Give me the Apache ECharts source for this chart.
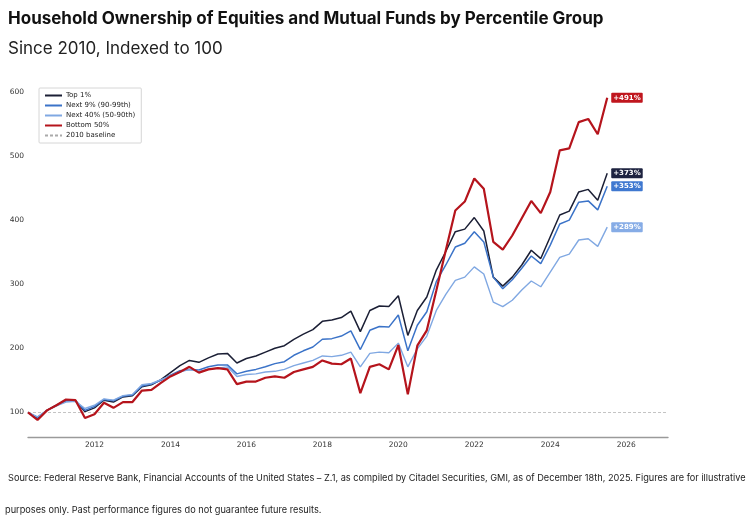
<!DOCTYPE html>
<html>
<head>
<meta charset="utf-8">
<script src="https://cdn.jsdelivr.net/npm/echarts@6/dist/echarts.min.js"></script>
<style>
html,body{margin:0;padding:0;background:#fff;}
#c{width:754px;height:526px;}
</style>
</head>
<body>
<div id="c"></div>
<script>
// Quarter-end dates, 2010Q1 .. 2025Q2
const quarters = [];
for (let y = 2010; y <= 2025; y++) {
  for (let q = 1; q <= 4; q++) {
    if (y === 2025 && q > 2) break;
    quarters.push(y + q / 4);
  }
}
const xTickLabels = [2012, 2014, 2016, 2018, 2020, 2022, 2024, 2026];
const yTickLabels = [100, 200, 300, 400, 500, 600];

const top1 = [100,91,103,111,118,118,101,107,119,116,124,126,140,143,151,162,173,181,178,185,191,192,177,184,188,194,200,204,214,222,229,242,244,248,258,226,259,266,265,282,220,259,280,322,351,382,386,404,383,311,297,311,330,353,340,374,408,414,444,448,431,473];
const next9 = [100,92,103,111,118,118,103,109,120,118,125,127,141,144,150,158,165,167,166,171,174,174,160,164,167,171,176,179,189,196,202,214,215,219,227,198,228,234,233,252,196,236,257,304,330,358,364,382,366,311,293,307,325,344,332,361,394,400,428,430,416,453];
const next40 = [100,93,103,110,116,117,106,111,121,119,126,128,143,145,151,157,163,167,164,167,169,171,156,159,160,163,164,167,173,177,181,188,187,189,194,171,192,194,193,208,171,199,219,259,284,306,311,327,316,272,265,275,291,305,296,319,342,347,369,371,359,389];
const bottom50 = [100,88,103,111,120,119,91,97,115,107,116,116,134,135,146,156,163,171,162,167,169,167,144,148,148,154,156,154,163,167,171,181,176,175,184,130,171,175,167,205,128,204,228,290,353,415,429,465,449,366,354,376,403,430,411,444,509,512,553,558,534,591];

const seriesDefs = [
  {name: 'Top 1%', data: top1, color: '#1b1f35', box: '#1e2340', width: 1.5},
  {name: 'Next 9% (90-99th)', data: next9, color: '#3b73c8', box: '#3f78d0', width: 1.5},
  {name: 'Next 40% (50-90th)', data: next40, color: '#80a8e2', box: '#86ace6', width: 1.4},
  {name: 'Bottom 50%', data: bottom50, color: '#b5141c', box: '#c0161e', width: 2.2}
];

const chart = echarts.init(document.getElementById('c'));
const series = seriesDefs.map(s => ({
  name: s.name,
  type: 'line',
  data: s.data.map((v, i) => [quarters[i], v]),
  symbol: 'none',
  lineStyle: {color: s.color, width: s.width},
  itemStyle: {color: s.color},
  z: s.name === 'Bottom 50%' ? 5 : 3,
  endLabel: {
    show: true,
    formatter: p => '+' + Math.round(p.value[1] - 100) + '%',
    color: '#fff',
    backgroundColor: s.box,
    fontFamily: 'DejaVu Sans',
    fontSize: 7,
    fontWeight: 'bold',
    padding: [2, 2, 1, 2],
    borderRadius: 1,
    distance: 4
  }
}));
series.push({
  name: '2010 baseline',
  type: 'line',
  data: [],
  symbol: 'none',
  lineStyle: {color: '#aaaaaa', width: 0.8, type: [3, 2]},
  itemStyle: {color: '#aaaaaa'},
  markLine: {
    silent: true,
    symbol: 'none',
    label: {show: false},
    lineStyle: {color: '#b5b5b5', width: 0.8, type: [3, 2]},
    data: [{yAxis: 100}]
  }
});

chart.setOption({
  animation: false,
  backgroundColor: '#fff',
  grid: {left: 28, width: 640, top: 79.2, height: 358.1},
  xAxis: {
    type: 'value',
    min: 2010.25,
    max: 2027.1,
    splitLine: {show: false},
    axisTick: {show: false},
    axisLine: {show: true, lineStyle: {color: '#9a9a9a', width: 1.4}},
    axisLabel: {
      customValues: xTickLabels,
      color: '#333',
      fontFamily: 'DejaVu Sans',
      fontSize: 7.5,
      margin: 4,
      formatter: v => String(v)
    }
  },
  yAxis: {
    type: 'value',
    min: 61,
    max: 620,
    splitLine: {show: false},
    axisTick: {show: false},
    axisLine: {show: false},
    axisLabel: {
      customValues: yTickLabels,
      color: '#333',
      fontFamily: 'DejaVu Sans',
      fontSize: 7.5,
      margin: 4,
      formatter: v => String(v)
    }
  },
  legend: {
    orient: 'vertical',
    left: 39,
    top: 88,
    backgroundColor: '#fff',
    borderColor: '#cccccc',
    borderWidth: 0.8,
    borderRadius: 1,
    padding: [4, 6, 4, 5],
    itemGap: 3,
    itemWidth: 17,
    itemHeight: 7,
    itemStyle: {opacity: 0},
    textStyle: {fontFamily: 'DejaVu Sans', fontSize: 7, color: '#222', padding: [0, 0, 0, -1]},
    data: seriesDefs.map(s => s.name).concat(['2010 baseline'])
  },
  graphic: [
    {type: 'text', left: 8, top: 10, style: {text: 'Household Ownership of Equities and Mutual Funds by Percentile Group', fontFamily: 'Inter', fontWeight: 'bold', fontSize: 17, fill: '#111'}},
    {type: 'text', left: 8, top: 40, style: {text: 'Since 2010, Indexed to 100', fontFamily: 'Inter', fontSize: 17, fill: '#222'}},
    {type: 'text', left: 8, top: 474, style: {text: 'Source: Federal Reserve Bank, Financial Accounts of the United States \u2013 Z.1, as compiled by Citadel Securities, GMI, as of December 18th, 2025. Figures are for illustrative', fontFamily: 'Inter', fontSize: 9.2, fill: '#222'}},
    {type: 'text', left: 5, top: 506, style: {text: 'purposes only. Past performance figures do not guarantee future results.', fontFamily: 'Inter', fontSize: 9.2, fill: '#222'}}
  ],
  series: series
});
</script>
</body>
</html>
